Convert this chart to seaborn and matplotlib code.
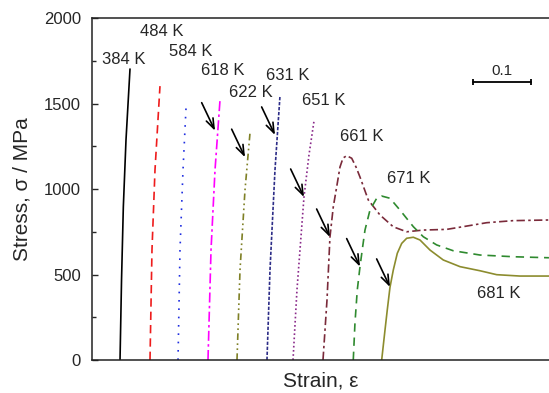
import matplotlib
matplotlib.use("Agg")
import matplotlib.pyplot as plt
from matplotlib.ticker import MultipleLocator
import seaborn as sns
import pandas as pd

# strain / stress pairs, one curve per temperature
strain_384 = [0.0483, 0.0509, 0.0540, 0.0586, 0.0655]
stress_384 = [0, 468, 895, 1287, 1702]
strain_484 = [0.1000, 0.1034, 0.1086, 0.1172]
stress_484 = [0, 643, 1111, 1602]
strain_584 = [0.1483, 0.1517, 0.1569, 0.1621]
stress_584 = [0, 643, 1111, 1474]
strain_618 = [0.2000, 0.2052, 0.2121, 0.2207]
stress_618 = [0, 643, 1111, 1520]
strain_622 = [0.2500, 0.2552, 0.2638, 0.2724]
stress_622 = [0, 526, 994, 1327]
strain_631 = [0.3017, 0.3069, 0.3155, 0.3241]
stress_631 = [0, 526, 1111, 1544]
strain_651 = [0.3466, 0.3534, 0.3655, 0.3741, 0.3828]
stress_651 = [0, 409, 953, 1199, 1398]
strain_661 = [0.3983, 0.4052, 0.4103, 0.4160, 0.4224, 0.4276, 0.4328, 0.4391,
              0.4478, 0.4552, 0.4621, 0.4764, 0.4966, 0.5195, 0.5426, 0.5712,
              0.6116, 0.6402, 0.6805, 0.7259, 0.7879]
stress_661 = [0, 351, 719, 895, 1023, 1129, 1181, 1195,
              1180, 1129, 1070, 936, 848, 779, 750, 760,
              764, 780, 803, 815, 819]
strain_671 = [0.4505, 0.4534, 0.4574, 0.4621, 0.4664, 0.4707, 0.4793, 0.4909,
              0.4995, 0.5138, 0.5310, 0.5540, 0.5712, 0.5943, 0.6229, 0.6690,
              0.7264, 0.7879]
stress_671 = [0, 215, 409, 546, 655, 760, 877, 946,
              959, 946, 877, 780, 721, 673, 639, 614,
              604, 598]
strain_681 = [0.4995, 0.5052, 0.5091, 0.5138, 0.5195, 0.5264, 0.5340, 0.5426,
              0.5540, 0.5655, 0.5828, 0.6057, 0.6345, 0.6690, 0.6978, 0.7379,
              0.7879]
stress_681 = [0, 175, 292, 425, 526, 624, 682, 712,
              718, 702, 643, 585, 546, 522, 499, 491,
              491]

temps = ["384 K", "484 K", "584 K", "618 K", "622 K", "631 K",
         "651 K", "661 K", "671 K", "681 K"]
label_x = [0.0552, 0.1207, 0.1707, 0.2259, 0.2741, 0.3379,
           0.4000, 0.4655, 0.5466, 0.7017]
label_y = [1760, 1924, 1807, 1696, 1567, 1667, 1515, 1310, 1064, 386]

# arrow tips (marking onset) for 618 K .. 681 K
arrow_x = [0.2121, 0.2638, 0.3155, 0.3655, 0.4103, 0.4621, 0.5138]
arrow_y = [1341, 1186, 1316, 953, 719, 546, 427]

curves = [
    (strain_384, stress_384, "#000000", "-"),
    (strain_484, stress_484, "#ee1c1c", (0, (5, 3))),
    (strain_584, stress_584, "#1f2ee0", (0, (1, 4))),
    (strain_618, stress_618, "#ff00ff", (0, (6, 2, 1.5, 2))),
    (strain_622, stress_622, "#7f8026", (0, (4, 2, 1, 2, 1, 2))),
    (strain_631, stress_631, "#2e2e88", (0, (2, 1))),
    (strain_651, stress_651, "#8a2a8a", (0, (1, 1.5))),
    (strain_661, stress_661, "#7a2a3a", (0, (5, 2, 1.5, 2))),
    (strain_671, stress_671, "#2f8a2f", (0, (5, 3.5))),
    (strain_681, stress_681, "#8c8c2e", "-"),
]

sns.set_theme(style="ticks")
plt.rcParams["font.family"] = ["Liberation Sans", "DejaVu Sans"]

fig = plt.figure(figsize=(5.49, 3.93), dpi=100)
ax = fig.add_axes([0.1676, 0.084, 0.8324, 0.870])

for x, y, color, ls in curves:
    df = pd.DataFrame({"strain": x, "stress": y})
    sns.lineplot(data=df, x="strain", y="stress", color=color, linestyle=ls,
                 linewidth=1.2, estimator=None, sort=False, ax=ax)

for t, lx, ly in zip(temps, label_x, label_y):
    ax.text(lx, ly, t, fontsize=12, ha="center", va="center")

for ax_x, ax_y in zip(arrow_x, arrow_y):
    ax.annotate("", xy=(ax_x, ax_y), xytext=(-9.6, 20.2), textcoords="offset points",
                arrowprops=dict(arrowstyle="->,head_length=0.6,head_width=0.22",
                                color="black", lw=1.2, shrinkA=0, shrinkB=0))

# scale bar
bar_x0, bar_len, bar_y = 0.657, 0.1, 1624
ax.plot([bar_x0, bar_x0 + bar_len], [bar_y, bar_y], color="black", lw=1.3,
        marker="|", markersize=4, markeredgewidth=1.3)
ax.text(bar_x0 + bar_len / 2, bar_y + 25, "0.1", fontsize=11, ha="center", va="bottom")

ax.set_xlim(0, 0.788)
ax.set_ylim(0, 2000)
ax.set_xticks([])
ax.yaxis.set_major_locator(MultipleLocator(500))
ax.yaxis.set_minor_locator(MultipleLocator(250))
ax.tick_params(axis="y", which="both", direction="in", labelsize=12, pad=8)
ax.tick_params(axis="y", which="major", length=4, width=1)
ax.tick_params(axis="y", which="minor", length=3, width=1)
ax.spines["right"].set_visible(False)
for s in ["left", "top", "bottom"]:
    ax.spines[s].set_color("#222222")
    ax.spines[s].set_linewidth(1.1)

ax.set_xlabel("Strain, ε", fontsize=15, labelpad=8)
ax.set_ylabel("Stress, σ / MPa", fontsize=15, labelpad=9)

fig.savefig("out.png", dpi=100)
